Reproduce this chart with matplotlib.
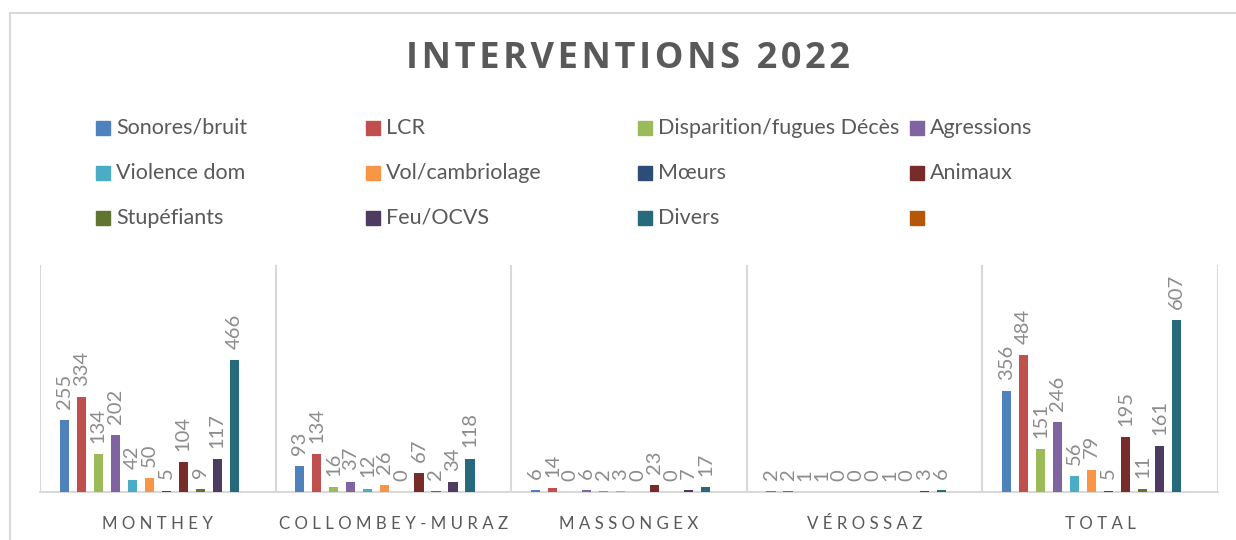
import matplotlib.pyplot as plt
from matplotlib.patches import Rectangle
import numpy as np

plt.rcParams['font.family'] = ['Lato', 'DejaVu Sans']

communes = ['MONTHEY', 'COLLOMBEY-MURAZ', 'MASSONGEX', 'VÉROSSAZ', 'TOTAL']
series = ['Sonores/bruit', 'LCR', 'Disparition/fugues Décès', 'Agressions',
          'Violence dom', 'Vol/cambriolage', 'Mœurs', 'Animaux',
          'Stupéfiants', 'Feu/OCVS', 'Divers', '']
colors = ['#4F81BD', '#C0504D', '#9BBB59', '#8064A2', '#4BACC6', '#F79646',
          '#2C4D75', '#772C2A', '#5F7530', '#4D3B62', '#276A7C', '#B65708']

sonores = [255, 93, 6, 2, 356]
lcr = [334, 134, 14, 2, 484]
disparition = [134, 16, 0, 1, 151]
agressions = [202, 37, 6, 1, 246]
violence = [42, 12, 2, 0, 56]
vol = [50, 26, 3, 0, 79]
moeurs = [5, 0, 0, 0, 5]
animaux = [104, 67, 23, 1, 195]
stupefiants = [9, 2, 0, 0, 11]
feu = [117, 34, 7, 3, 161]
divers = [466, 118, 17, 6, 607]
vide = []

values = [sonores, lcr, disparition, agressions, violence, vol, moeurs,
          animaux, stupefiants, feu, divers, vide]

W, H = 1236, 540
fig = plt.figure(figsize=(W / 100, H / 100), dpi=100)

# outer frame (cut off at right/bottom)
fig.patches.append(Rectangle((10 / W, -0.2), 1.2, 1 - 13 / H + 0.2,
                             transform=fig.transFigure, fill=False,
                             edgecolor='#d9d9d9', lw=1.5))

# title with a little letter spacing (hair spaces)
title = '\u200a'.join('INTERVENTIONS 2022')
fig.text(628 / W, 1 - 59 / H, title, ha='center', va='center',
         fontsize=26, fontweight='bold', color='#595959',
         family=['Open Sans', 'DejaVu Sans'])

# legend drawn by hand: 4 equal columns, 3 rows
col_x = [96, 366, 638, 910]
row_y = [128, 173, 218]
for k, (name, c) in enumerate(zip(series, colors)):
    x = col_x[k % 4]
    y = row_y[k // 4]
    fig.patches.append(Rectangle((x / W, 1 - (y + 7) / H), 14 / W, 14 / H,
                                 transform=fig.transFigure, color=c))
    fig.text((x + 20) / W, 1 - y / H, name, ha='left', va='center',
             fontsize=15.5, color='#595959')

ax = fig.add_axes([40 / W, 48 / H, 1178 / W, 227 / H])
pitch = 0.0722
width = 0.039
x = np.arange(len(communes))
for i, (vals, c) in enumerate(zip(values, colors)):
    if not vals:
        continue
    pos = x + (i - 5.5) * pitch
    bars = ax.bar(pos, vals, width=width, color=c, zorder=3)
    for xp, v in zip(pos, vals):
        ax.annotate(str(v), (xp, v), xytext=(0, 8), textcoords='offset points',
                    rotation=90, ha='center', va='bottom', fontsize=14.5,
                    color='#8c8c8c')

ax.set_xlim(-0.5, len(communes) - 0.5)
ax.set_ylim(0, 800)
for b in np.arange(-0.5, len(communes), 1):
    ax.axvline(b, color='#d9d9d9', lw=1.5, zorder=1)
for s in ['top', 'right', 'left']:
    ax.spines[s].set_visible(False)
ax.spines['bottom'].set_color('#d9d9d9')
ax.spines['bottom'].set_linewidth(1.5)
ax.set_yticks([])
ax.set_xticks(x)
ax.set_xticklabels([' '.join(c) for c in communes], fontsize=12.2,
                   color='#595959')
ax.tick_params(axis='x', length=0, pad=17)

fig.savefig('out.png', dpi=100)
